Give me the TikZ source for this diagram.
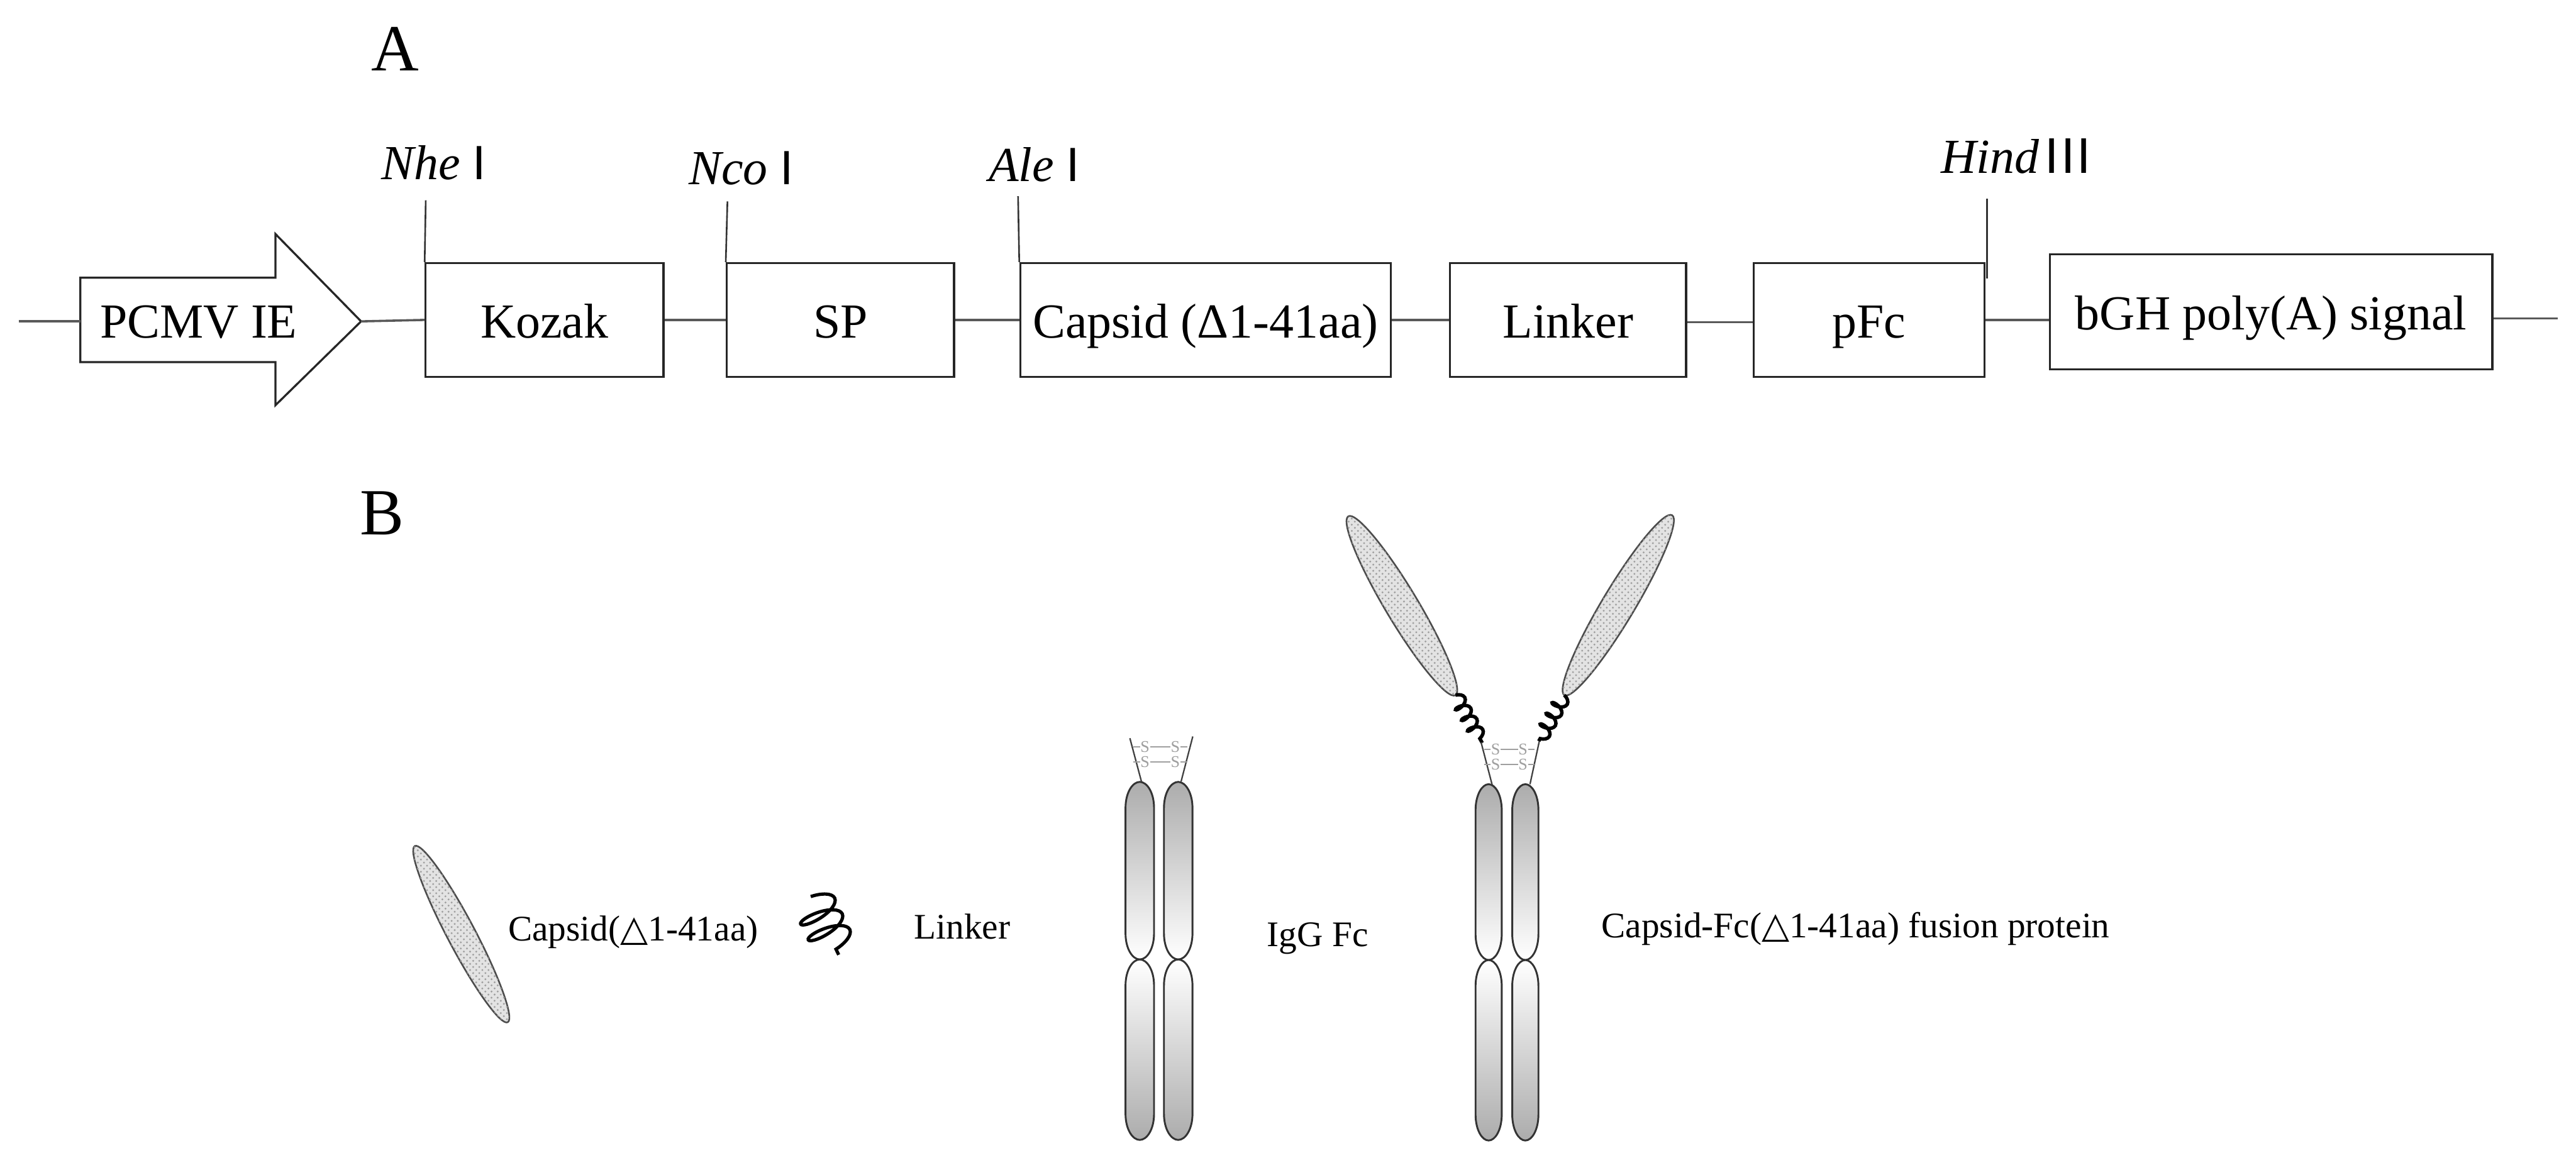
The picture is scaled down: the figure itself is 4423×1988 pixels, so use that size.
\documentclass[tikz,border=0pt]{standalone}
\usepackage{fontspec}
\setmainfont{Liberation Serif}
\newfontfamily\dejavu{DejaVu Sans}
\newfontfamily\barfont{Liberation Sans}
\usetikzlibrary{patterns,decorations.pathmorphing}
\newcommand\fsA{\fontsize{23.9pt}{28pt}\selectfont}
\newcommand\fsL{\fontsize{32.2pt}{36pt}\selectfont}
\newcommand\fsB{\fontsize{17.6pt}{21pt}\selectfont}
\newcommand\fsS{\fontsize{8pt}{9pt}\selectfont}
\newcommand\barI{{\barfont\fontsize{23.5pt}{26pt}\selectfont I}}
\newcommand\barIII{{\barfont\fontsize{24.5pt}{26pt}\selectfont I\hspace{1pt}I\hspace{1pt}I}}
% chain segment: style, cx, top, bottom, half width
\newcommand\fcseg[5]{%
  \path[#1] (#2-#5,#3+45) .. controls (#2-#5,#3+18) and (#2-0.5*#5,#3) .. (#2,#3)
    .. controls (#2+0.5*#5,#3) and (#2+#5,#3+18) .. (#2+#5,#3+45)
    -- (#2+#5,#4-45) .. controls (#2+#5,#4-18) and (#2+0.5*#5,#4) .. (#2,#4)
    .. controls (#2-0.5*#5,#4) and (#2-#5,#4-18) .. (#2-#5,#4-45) -- cycle;}
\tikzset{
  gene/.style={draw=black!85, line width=1pt, minimum height=1.95cm, inner sep=0pt,
    font=\fsA, text height=22pt, text depth=4.6pt},
  dna/.style={draw=black!65, line width=1.1pt},
  site/.style={draw=black!80, line width=0.8pt},
  sitelbl/.style={anchor=base west, font=\fsA, inner sep=0pt},
  panel/.style={anchor=base west, font=\fsL, inner sep=0pt},
  blbl/.style={anchor=base west, font=\fsB, inner sep=0pt},
  fab/.style={draw=black!70, line width=0.8pt, fill=gray!22,
    postaction={pattern=crosshatch dots, pattern color=gray!75}},
  upseg/.style={draw=black!80, line width=0.9pt, top color=gray!65, middle color=white, bottom color=white},
  lowseg/.style={draw=black!80, line width=0.9pt, top color=white, middle color=white, bottom color=gray!65},
  hinge/.style={draw=black!75, line width=0.7pt},
  ssbond/.style={draw=gray!75, line width=0.6pt},
  sslbl/.style={font=\fsS, text=gray!75, inner sep=0pt, text height=5.2pt, text depth=0pt},
  bigcoil/.style={draw=black, line width=1.6pt, decorate,
    decoration={coil, amplitude=0.36cm, segment length=0.3cm, aspect=0.35}},
  smallcoil/.style={draw=black, line width=1.7pt, decorate,
    decoration={coil, amplitude=0.12cm, segment length=0.21cm}},
}
\begin{document}
\begin{tikzpicture}[x=0.01cm, y=-0.01cm]
\useasboundingbox[fill=white] (0,0) rectangle (4423,1988);

% ---------------- Panel A ----------------
\node[panel] (labA) at (637,121) {A};

% promoter arrow
\coordinate (l0) at (32,552);
\coordinate (ptail) at (138,552);
\coordinate (ptip) at (620,552);
\coordinate (lend) at (4392,547);
\draw[line width=1pt, draw=black!85] (138,477) -- (473,477) -- (473,402) -- (ptip)
  -- (473,696) -- (473,622) -- (138,622) -- cycle;
\node[anchor=base, font=\fsA, inner sep=0pt] (pcmv) at (341,580) {PCMV IE};

% gene boxes
\node[gene, minimum width=4.08cm] (kozak) at (935,549.5) {Kozak};
\node[gene, minimum width=3.90cm] (sp) at (1443,549.5) {SP};
\node[gene, minimum width=6.36cm] (capsid) at (2070,549.5) {Capsid (Δ1-41aa)};
\node[gene, minimum width=4.05cm] (linker) at (2692.5,549.5) {Linker};
\node[gene, minimum width=3.96cm] (pfc) at (3209,549.5) {pFc};
\node[gene, minimum width=7.59cm, minimum height=1.97cm] (bgh) at (3899.5,535.5) {bGH poly(A) signal};

% backbone
\draw[dna] (l0) -- (ptail);
\draw[dna] (ptip) -- (kozak.west);
\draw[dna] (kozak.east) -- (sp.west);
\draw[dna] (sp.east) -- (capsid.west);
\draw[dna] (capsid.east) -- (linker.west);
\draw[dna] ([yshift=-0.04cm]linker.east) -- ([yshift=-0.04cm]pfc.west);
\draw[dna] (pfc.east) -- (pfc.east -| bgh.west);
\draw[dna] (bgh.east |- lend) -- (lend);

% restriction sites
\coordinate (nheTop) at (731,344);
\coordinate (ncoTop) at (1249,346);
\coordinate (aleTop) at (1748,337);
\coordinate (hindTop) at (3412,341);
\coordinate (hindBot) at (3412,478);
\draw[site] (nheTop) -- (kozak.north west);
\draw[site] (ncoTop) -- (sp.north west);
\draw[site] (aleTop) -- (capsid.north west);
\draw[site] (hindTop) -- (hindBot);
\node[sitelbl] (nhe) at (654,308) {\textit{Nhe} \barI};
\node[sitelbl] (nco) at (1182,317) {\textit{Nco} \barI};
\node[sitelbl] (ale) at (1697,312) {\textit{Ale} \barI};
\node[sitelbl] (hind) at (3332,297) {\textit{Hind}\hspace{3pt}\barIII};

% ---------------- Panel B ----------------
\node[panel] (labB) at (617,918) {B};

% free capsid
\begin{scope}[shift={(792,1604.5)}, rotate=-62.2]
  \path[fab] (0,0) ellipse [x radius=1.71cm, y radius=0.24cm];
\end{scope}
\node[blbl] (capsidlbl) at (872,1616) {Capsid({\dejavu △}1-41aa)};

% free linker
\coordinate (lk1) at (1392,1540);
\coordinate (lk2) at (1440,1640);
\draw[bigcoil] (lk1) -- (lk2);
\node[blbl] (linkerlbl) at (1569,1613) {Linker};

% IgG Fc
\fcseg{upseg}{1957}{1343}{1648}{24.5}
\fcseg{lowseg}{1957}{1648}{1958}{24.5}
\fcseg{upseg}{2023}{1343}{1648}{24.5}
\fcseg{lowseg}{2023}{1648}{1958}{24.5}
\coordinate (ih1a) at (1940,1268); \coordinate (ih1b) at (1960,1343);
\coordinate (ih2a) at (2048,1265); \coordinate (ih2b) at (2028,1342);
\draw[hinge] (ih1a) -- (ih1b);
\draw[hinge] (ih2a) -- (ih2b);
\node[sslbl] (is1) at (1966,1283) {S};
\node[sslbl] (is2) at (2018,1283) {S};
\node[sslbl] (is3) at (1966,1309) {S};
\node[sslbl] (is4) at (2018,1309) {S};
\draw[ssbond] (is1) -- (is2);
\draw[ssbond] (is3) -- (is4);
\draw[ssbond] (is1.west) -- ++(-12,0);
\draw[ssbond] (is3.west) -- ++(-12,0);
\draw[ssbond] (is2.east) -- ++(12,0);
\draw[ssbond] (is4.east) -- ++(12,0);
\node[blbl] (igglbl) at (2175,1626) {IgG Fc};

% Capsid-Fc fusion
\begin{scope}[shift={(2407,1040.5)}, rotate=-59.1]
  \path[fab] (0,0) ellipse [x radius=1.79cm, y radius=0.28cm];
\end{scope}
\begin{scope}[shift={(2778.5,1039.5)}, rotate=59.1]
  \path[fab] (0,0) ellipse [x radius=1.80cm, y radius=0.28cm];
\end{scope}
\coordinate (fl1) at (2499,1194); \coordinate (fl2) at (2545,1276);
\coordinate (fr1) at (2686,1194); \coordinate (fr2) at (2642,1273);
\draw[smallcoil] (fl1) -- (fl2);
\draw[smallcoil] (fr1) -- (fr2);
\fcseg{upseg}{2556}{1347}{1649}{22.5}
\fcseg{lowseg}{2556}{1649}{1959}{22.5}
\fcseg{upseg}{2619}{1347}{1649}{22.5}
\fcseg{lowseg}{2619}{1649}{1959}{22.5}
\coordinate (fh1a) at (2543,1275); \coordinate (fh1b) at (2562,1348);
\coordinate (fh2a) at (2643,1273); \coordinate (fh2b) at (2627,1347);
\draw[hinge] (fh1a) -- (fh1b);
\draw[hinge] (fh2a) -- (fh2b);
\node[sslbl] (fs1) at (2568,1287) {S};
\node[sslbl] (fs2) at (2615,1287) {S};
\node[sslbl] (fs3) at (2568,1313) {S};
\node[sslbl] (fs4) at (2615,1313) {S};
\draw[ssbond] (fs1) -- (fs2);
\draw[ssbond] (fs3) -- (fs4);
\draw[ssbond] (fs1.west) -- ++(-11,0);
\draw[ssbond] (fs3.west) -- ++(-11,0);
\draw[ssbond] (fs2.east) -- ++(11,0);
\draw[ssbond] (fs4.east) -- ++(11,0);
\node[blbl] (fusionlbl) at (2749,1611) {Capsid-Fc({\dejavu △}1-41aa) fusion protein};
\end{tikzpicture}
\end{document}
